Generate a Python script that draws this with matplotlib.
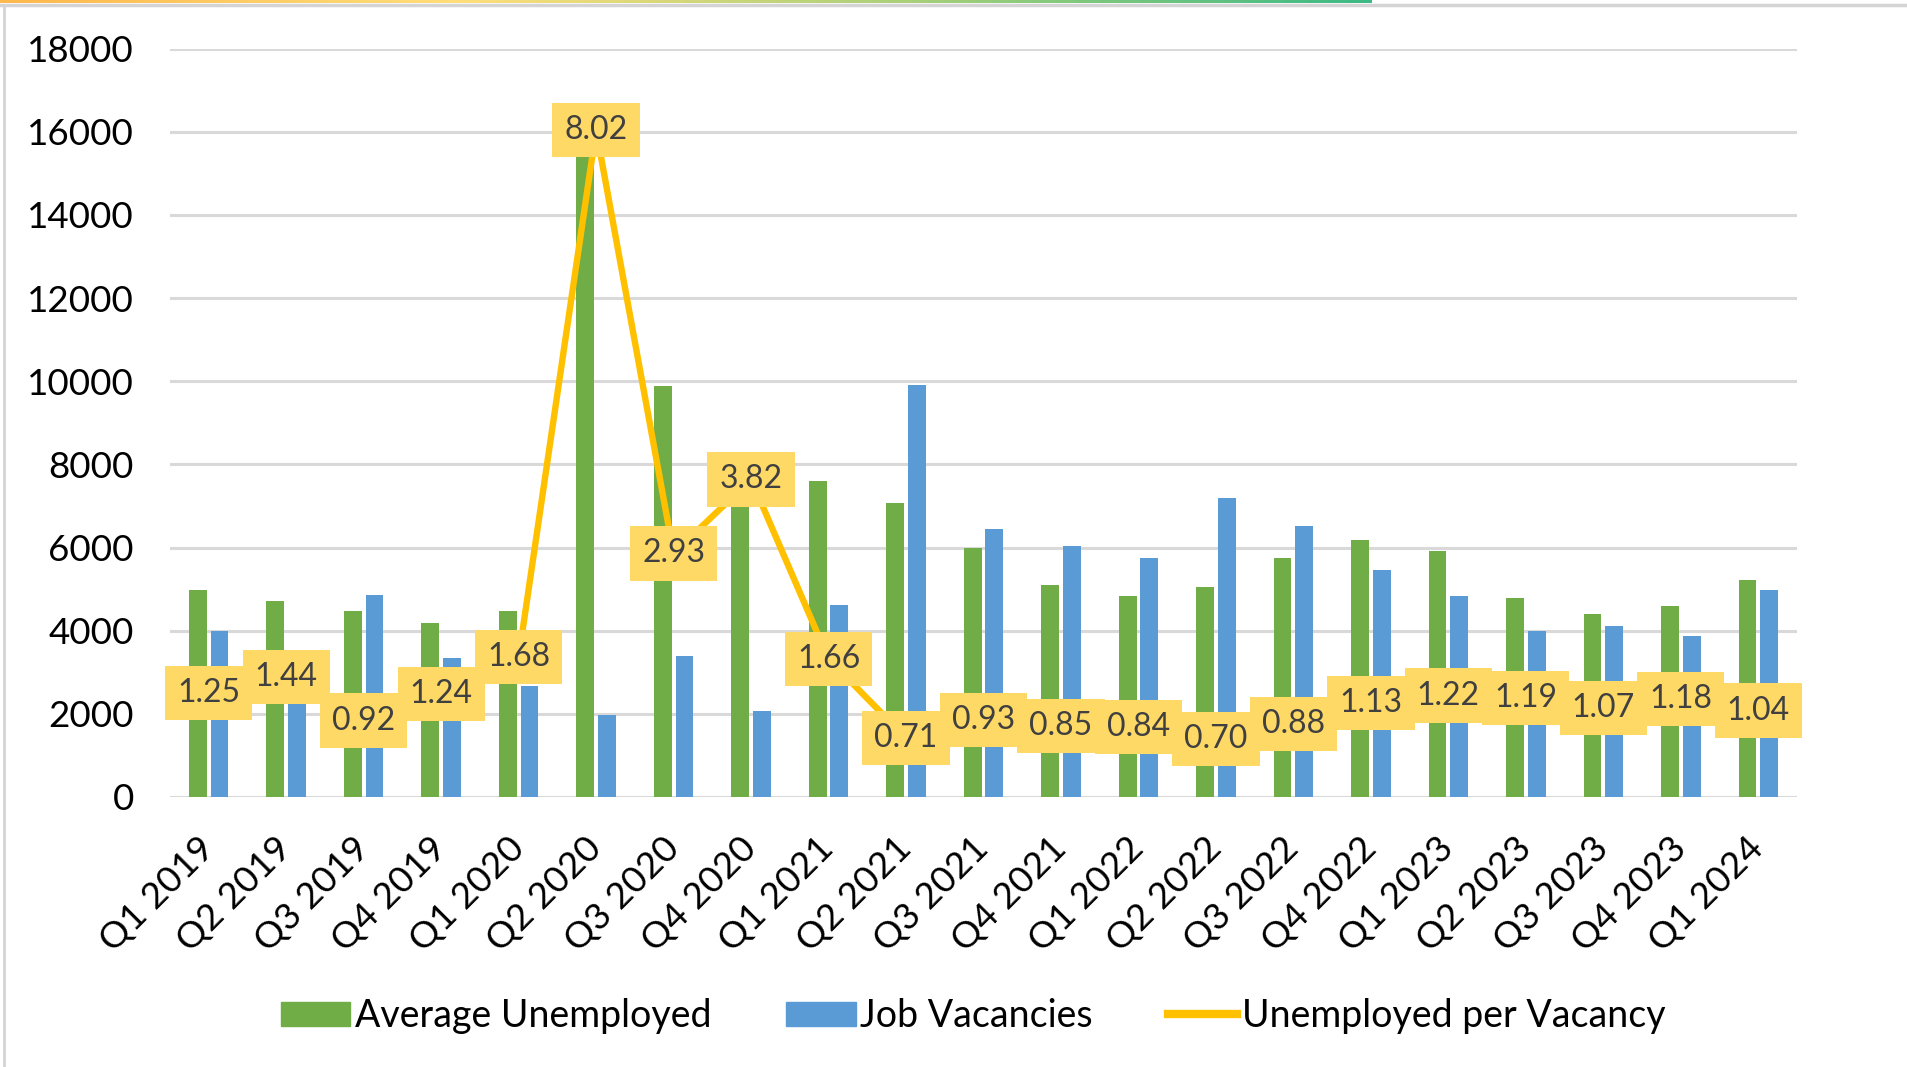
import numpy as np
import matplotlib.pyplot as plt
from matplotlib.patches import Patch
from matplotlib.lines import Line2D
from matplotlib.colors import LinearSegmentedColormap

plt.rcParams['font.family'] = ['Lato', 'DejaVu Sans']

quarters = ["Q1 2019", "Q2 2019", "Q3 2019", "Q4 2019",
            "Q1 2020", "Q2 2020", "Q3 2020", "Q4 2020",
            "Q1 2021", "Q2 2021", "Q3 2021", "Q4 2021",
            "Q1 2022", "Q2 2022", "Q3 2022", "Q4 2022",
            "Q1 2023", "Q2 2023", "Q3 2023", "Q4 2023",
            "Q1 2024"]
unemployed = [4980, 4710, 4470, 4190, 4470, 15880, 9890, 7900, 7610, 7080, 5990,
              5110, 4830, 5040, 5750, 6190, 5910, 4790, 4390, 4590, 5230]
vacancies = [3990, 3270, 4870, 3350, 2670, 1980, 3390, 2070, 4630, 9920, 6440,
             6030, 5760, 7190, 6510, 5470, 4830, 3990, 4110, 3870, 4990]
ratio = [1.25, 1.44, 0.92, 1.24, 1.68, 8.02, 2.93, 3.82, 1.66, 0.71, 0.93,
         0.85, 0.84, 0.70, 0.88, 1.13, 1.22, 1.19, 1.07, 1.18, 1.04]

GREEN = "#70AD47"
BLUE = "#5B9BD5"
GOLD = "#FFC000"
LABEL_BG = "#FFD966"

W, H = 1908, 1067
fig = plt.figure(figsize=(W / 100, H / 100), dpi=100)
ax = fig.add_axes([170 / W, 1 - 797 / H, (1797 - 170) / W, (797 - 48.7) / H])

x = np.arange(len(quarters))
bw = 0.23
ax.bar(x - 0.14, unemployed, bw, color=GREEN, zorder=2)
ax.bar(x + 0.14, vacancies, bw, color=BLUE, zorder=2)

ax.set_xlim(-0.5, len(quarters) - 0.5)
ax.set_ylim(0, 18000)
ax.set_yticks(range(0, 18001, 2000))
ax.yaxis.grid(True, color="#D9D9D9", linewidth=2.2, zorder=0)
ax.set_axisbelow(True)
for s in ax.spines.values():
    s.set_visible(False)
ax.tick_params(length=0, labelsize=26.5, colors="black")
ax.tick_params(axis="y", pad=26)
ax.set_xticks(x)
ax.set_xticklabels(quarters, rotation=45, ha="right", va="center",
                   rotation_mode="anchor")
ax.tick_params(axis="x", pad=33)

# ratio on a hidden secondary axis
ax2 = ax.twinx()
ax2.set_ylim(0, 9)
ax2.axis("off")
ax2.plot(x, ratio, color=GOLD, linewidth=4.6, zorder=3)
for xi, r in zip(x, ratio):
    ax2.text(xi, r, f"{r:.2f}", ha="center", va="center", fontsize=23,
             color="#404040", zorder=4,
             bbox=dict(boxstyle="square,pad=0.38", fc=LABEL_BG, ec="none"))

handles = [Patch(color=GREEN), Patch(color=BLUE),
           Line2D([0], [0], color=GOLD, linewidth=6)]
fig.legend(handles, ["Average Unemployed", "Job Vacancies", "Unemployed per Vacancy"],
           loc="center", bbox_to_anchor=(973 / W, 1 - 1016 / H), ncol=3,
           frameon=False, fontsize=27, handlelength=1.85, handleheight=0.6,
           handletextpad=0.12, columnspacing=2.0)

# decorative frame: gradient strip on top, grey rules
top = fig.add_axes([0, 1 - 3 / H, 1372 / W, 3 / H])
grad = np.linspace(0, 1, 256).reshape(1, -1)
cmap = LinearSegmentedColormap.from_list("strip", ["#FFB84D", "#FFDE7A", "#A8D07A", "#3DBA85"])
top.imshow(grad, aspect="auto", cmap=cmap)
top.axis("off")
fig.add_artist(Line2D([0, 1], [1 - 5 / H, 1 - 5 / H], color="#D4D4D4", linewidth=2.5,
                      transform=fig.transFigure))
fig.add_artist(Line2D([4.5 / W, 4.5 / W], [0, 1 - 5 / H], color="#D4D4D4", linewidth=2,
                      transform=fig.transFigure))

fig.savefig("out.png", dpi=100)
